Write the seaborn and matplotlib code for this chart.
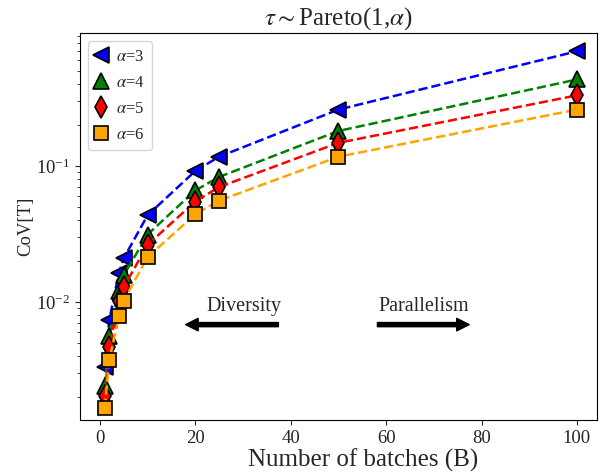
import matplotlib
matplotlib.use("Agg")
import matplotlib.pyplot as plt
import seaborn as sns
import pandas as pd

batches = [1, 2, 4, 5, 10, 20, 25, 50, 100]
cov_a3 = [0.0033, 0.0074, 0.0164, 0.0209, 0.0434, 0.0918, 0.117, 0.26, 0.698]
cov_a4 = [0.00241, 0.00556, 0.0121, 0.0157, 0.0313, 0.066, 0.083, 0.181, 0.433]
cov_a5 = [0.00204, 0.00468, 0.0101, 0.0128, 0.0263, 0.0547, 0.070, 0.148, 0.331]
cov_a6 = [0.00166, 0.00372, 0.0079, 0.0102, 0.0213, 0.0441, 0.0556, 0.117, 0.26]
labels = [r"$\alpha$=3", r"$\alpha$=4", r"$\alpha$=5", r"$\alpha$=6"]

sns.set_style("ticks")
plt.rcParams["font.family"] = ["Liberation Serif", "DejaVu Serif"]
plt.rcParams["mathtext.fontset"] = "stix"

fig = plt.figure(figsize=(6.0, 4.73), dpi=100)
ax = fig.add_axes([0.133, 0.112, 0.862, 0.818])

series = [cov_a3, cov_a4, cov_a5, cov_a6]
colors = ["blue", "green", "red", "orange"]
markers = ["<", "^", "d", "s"]
msizes = [12, 12, 11, 10.5]
for vals, lab, c, m, ms in zip(series, labels, colors, markers, msizes):
    df = pd.DataFrame({"B": batches, "CoV": vals})
    sns.lineplot(data=df, x="B", y="CoV", ax=ax, color=c, linestyle="--",
                 marker=m, markersize=ms, markeredgecolor="black",
                 markeredgewidth=1.2, label=lab, linewidth=1.8)

ax.set_yscale("log")
ax.set_xlim(-4.2, 104.2)
ax.set_ylim(0.00135, 0.95)
ax.set_xticks([0, 20, 40, 60, 80, 100])
ax.tick_params(labelsize=13.5)
ax.set_xlabel("Number of batches (B)", fontsize=18)
ax.xaxis.set_label_coords(0.547, -0.075)
ax.set_ylabel("CoV[T]", fontsize=13.5, labelpad=1)
ax.set_title(r"$\tau\sim$Pareto(1,$\alpha$)", fontsize=18, pad=6)
for s in ax.spines.values():
    s.set_visible(True)
    s.set_color("black")

ax.annotate("", xy=(17.4, 0.0068), xytext=(38, 0.0068),
            arrowprops=dict(arrowstyle="simple,head_width=0.9,head_length=0.9,tail_width=0.3", color="black"))
ax.annotate("", xy=(78, 0.0068), xytext=(57.6, 0.0068),
            arrowprops=dict(arrowstyle="simple,head_width=0.9,head_length=0.9,tail_width=0.3", color="black"))
ax.text(30.2, 0.0093, "Diversity", ha="center", va="center", fontsize=14.5)
ax.text(67.9, 0.0093, "Parallelism", ha="center", va="center", fontsize=14.5)

ax.legend(loc="upper left", fontsize=12, handlelength=0.7, handletextpad=0.5,
          borderpad=0.45, labelspacing=0.6, frameon=True)

fig.savefig("out.png", dpi=100)
